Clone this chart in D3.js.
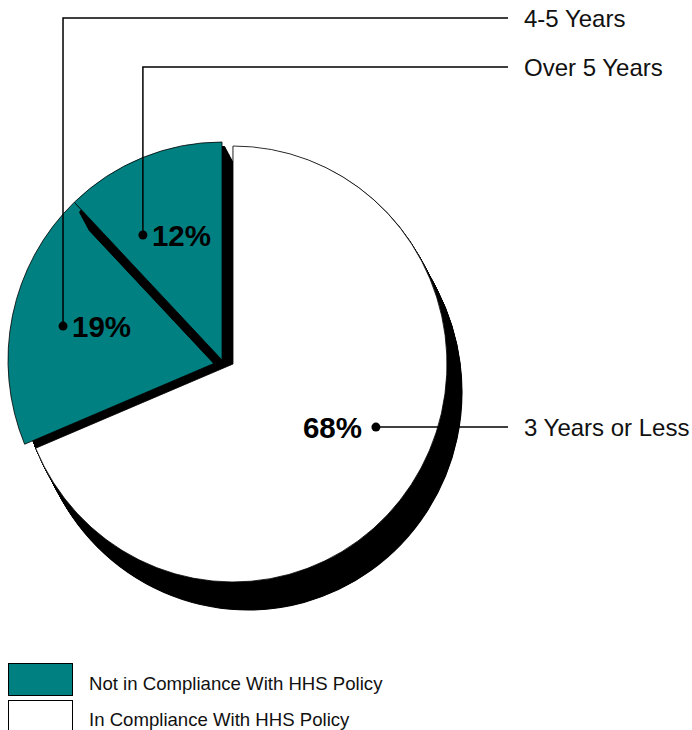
<!DOCTYPE html>
<html>
<head>
<meta charset="utf-8">
<script src="https://cdn.jsdelivr.net/npm/d3@7"></script>
<style>
  body { margin: 0; background: #fff; }
  svg { display: block; }
  text { font-family: "Liberation Sans", Arial, Helvetica, sans-serif; }
</style>
</head>
<body>
<div id="chart"></div>
<script>
const categories = ["3 Years or Less", "4-5 Years", "Over 5 Years"];
const percents = [68, 19, 12];
const compliant = [true, false, false];
const legendLabels = ["Not in Compliance With HHS Policy", "In Compliance With HHS Policy"];

const teal = '#008080';
const width = 692, height = 730;
const radius = 214;
const squash = 218 / 214;   // pie is a touch taller than wide
const center = [233, 364];
const depth = [15, 28];     // 3d side of the pie
const pullOut = [-11, -4];  // not-in-compliance slices pulled out

// where each percent label sits: fraction of radius, nudge from slice middle (deg), leader height
const labelLayout = [
    {f: 0.728, nudge: -10.2, leaderY: null},
    {f: 0.759, nudge: 0, leaderY: 18},
    {f: 0.682, nudge: -11, leaderY: 67}
];
const leaderEnd = 508;
const nameX = 524;

const svg = d3.select("#chart")
    .append("svg")
    .attr("width", width)
    .attr("height", height);

// sides of the pulled-out slices stop at the outline of the whole pie
svg.append("clipPath")
    .attr("id", "pieClip")
    .append("ellipse")
    .attr("cx", center[0])
    .attr("cy", center[1])
    .attr("rx", radius)
    .attr("ry", radius * squash);

const data = categories.map((c, i) => ({name: c, value: percents[i], ok: compliant[i]}));
const arcs = d3.pie().sort(null).value(d => d.value)(data);
const arc = d3.arc().innerRadius(0).outerRadius(radius);

arcs.forEach(a => {
    a.cx = center[0] + (a.data.ok ? 0 : pullOut[0]);
    a.cy = center[1] + (a.data.ok ? 0 : pullOut[1]);
});

const steps = d3.range(1, 41).map(k => k / 40);

function drawSlice(a) {
    const outer = svg.append("g");
    if (!a.data.ok) outer.attr("clip-path", "url(#pieClip)");
    const side = outer.append("g").attr("transform", `translate(${a.cx}, ${a.cy}) scale(1, ${squash})`);
    side.selectAll("path.side")
        .data(steps)
        .join("path")
        .attr("class", "side")
        .attr("d", arc(a))
        .attr("transform", t => `translate(${depth[0] * t}, ${depth[1] * t / squash})`)
        .attr("fill", "#000")
        .attr("stroke", "#000")
        .attr("stroke-width", 1);

    svg.append("g")
        .attr("transform", `translate(${a.cx}, ${a.cy}) scale(1, ${squash})`)
        .append("path")
        .attr("d", arc(a))
        .attr("fill", a.data.ok ? "#fff" : teal)
        .attr("stroke", "#000")
        .attr("stroke-width", 0.8)
        .attr("vector-effect", "non-scaling-stroke");
}

// teal slices first, white one on top
arcs.filter(a => !a.data.ok).forEach(drawSlice);
arcs.filter(a => a.data.ok).forEach(drawSlice);

// labels + leaders
arcs.forEach((a, i) => {
    const lay = labelLayout[i];
    const ang = (a.startAngle + a.endAngle) / 2 + lay.nudge * Math.PI / 180;
    const px = a.cx + radius * lay.f * Math.sin(ang);
    const py = a.cy - radius * squash * lay.f * Math.cos(ang);

    let pts;
    if (lay.leaderY == null) {
        pts = [[px, py], [leaderEnd, py]];
    } else {
        pts = [[px, py], [px, lay.leaderY], [leaderEnd, lay.leaderY]];
    }
    svg.append("path")
        .attr("d", d3.line()(pts))
        .attr("fill", "none")
        .attr("stroke", "#000")
        .attr("stroke-width", 1.5);

    svg.append("circle")
        .attr("cx", px)
        .attr("cy", py)
        .attr("r", 4.5)
        .attr("fill", "#000");

    const pct = svg.append("text")
        .attr("y", py + 11)
        .attr("font-size", 29.5)
        .attr("font-weight", "bold")
        .text(a.data.value + "%");
    if (a.data.ok) {
        pct.attr("x", px - 14).attr("text-anchor", "end");
    } else {
        pct.attr("x", px + 9);
    }

    svg.append("text")
        .attr("x", nameX)
        .attr("y", (lay.leaderY == null ? py : lay.leaderY) + 9)
        .attr("font-size", 24)
        .attr("fill", "#111")
        .text(a.data.name);
});

// legend
const legend = svg.append("g");
legendLabels.forEach((t, i) => {
    legend.append("rect")
        .attr("x", 8.5)
        .attr("y", 663.5 + i * 37)
        .attr("width", 64)
        .attr("height", 32)
        .attr("fill", i == 0 ? teal : "#fff")
        .attr("stroke", "#000")
        .attr("stroke-width", 1);
    legend.append("text")
        .attr("x", 89)
        .attr("y", 690 + i * 36)
        .attr("font-size", 18.6)
        .attr("fill", "#111")
        .text(t);
});
</script>
</body>
</html>
